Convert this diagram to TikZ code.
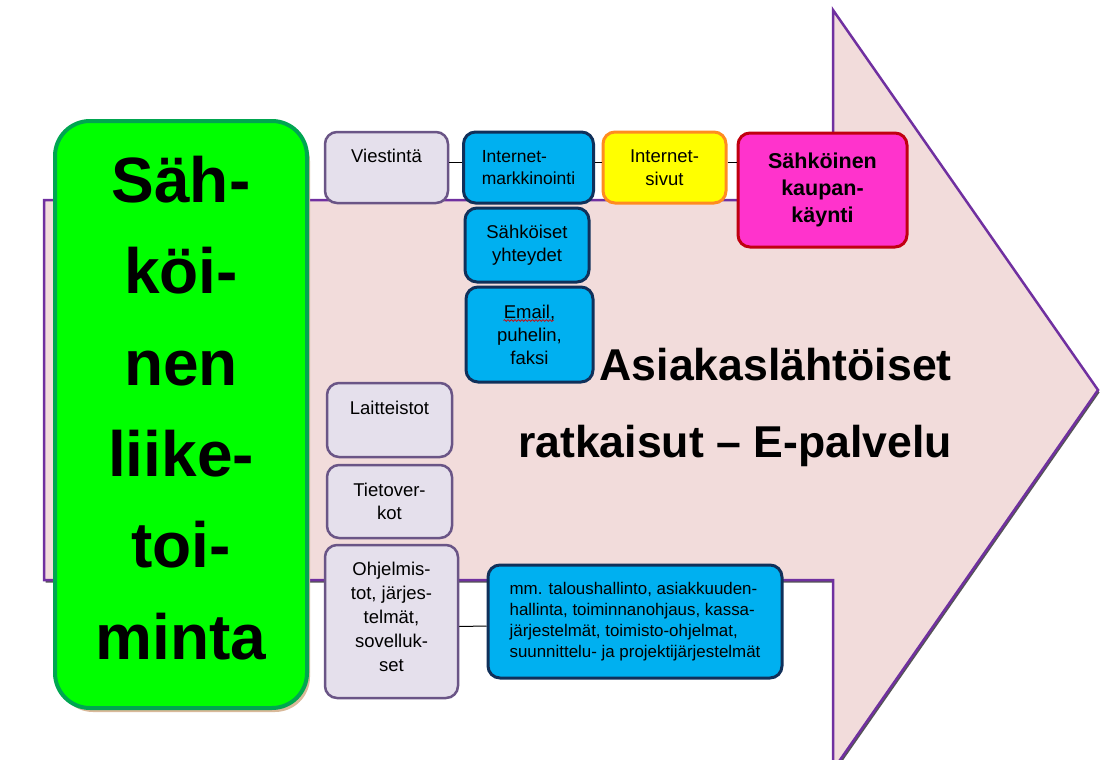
\documentclass[tikz,border=0pt]{standalone}
\usepackage{fontspec}
\setmainfont{Liberation Sans}
\usetikzlibrary{decorations.pathmorphing,calc}
\definecolor{arrowfill}{HTML}{F2DCDB}
\definecolor{arrowline}{HTML}{7030A0}
\definecolor{arrowshadow}{HTML}{555555}
\definecolor{lavfill}{HTML}{E5E0EC}
\definecolor{lavline}{HTML}{6A5586}
\definecolor{bluefill}{HTML}{00B0F0}
\definecolor{blueline}{HTML}{10305A}
\definecolor{yelfill}{HTML}{FFFF00}
\definecolor{yelline}{HTML}{FF8C20}
\definecolor{magfill}{HTML}{FF33CC}
\definecolor{magline}{HTML}{C00010}
\definecolor{grnfill}{HTML}{00FF00}
\definecolor{grnline}{HTML}{00A650}
\definecolor{tanshadow}{HTML}{D9B99A}
\begin{document}
\begin{tikzpicture}[x=1pt,y=-1pt,
  box/.style={draw, rounded corners=12pt, line width=2.5pt, inner sep=0pt, align=center, text=black},
  lbox/.style={box, fill=lavfill, draw=lavline},
  bbox/.style={box, fill=bluefill, draw=blueline, line width=3pt},
  ybox/.style={box, fill=yelfill, draw=yelline, line width=3pt},
  mbox/.style={box, fill=magfill, draw=magline, line width=3pt},
  smtext/.style={font=\fontsize{18.5}{23}\selectfont},
  midtext/.style={font=\fontsize{17.5}{21.5}\selectfont},
  bigtext/.style={font=\fontsize{44.6}{50}\selectfont\bfseries, inner sep=0pt, anchor=base east},
  plain/.style={inner sep=0pt, align=center},
  conn/.style={draw=black, line width=1pt}]
\useasboundingbox (0,0) rectangle (1104,760);
\clip (0,0) rectangle (1104,760);
% big arrow
\fill[arrowshadow, shift={(1.5,2.5)}] (44,200) -- (833,200) -- (833,10) -- (1098,390) -- (833,770) -- (833,580) -- (44,580) -- cycle;
\draw[fill=arrowfill, draw=arrowline, line width=2.5pt, line join=miter]
  (44,200) -- (833,200) -- (833,10) -- (1098,390) -- (833,770) -- (833,580) -- (44,580) -- cycle;
% green box
\fill[tanshadow, rounded corners=35pt] (58,126) rectangle (310,712);
\node[draw=grnline, fill=grnfill, line width=4pt, rounded corners=35pt,
  minimum width=252, minimum height=587, inner sep=0pt] (green) at (181,414.5) {};
\node[plain, font=\fontsize{64}{91.4}\selectfont\bfseries] (greent) at (181,408)
  {Säh-\\köi-\\nen\\liike-\\toi-\\minta};
% big text
\node[bigtext] (asi1) at (952,380) {Asiakaslähtöiset};
\node[bigtext] (asi2) at (952,457) {ratkaisut – E-palvelu};
% top row
\node[lbox, minimum width=123, minimum height=71] (vies) at (386.5,167.5) {};
\node[plain, smtext, anchor=base] (viest) at (386.5,162) {Viestintä};
\node[bbox, midtext, align=left, minimum width=130, minimum height=71] (imk) at (528.5,167.5)
  {Internet-\\markkinointi};
\node[ybox, smtext, minimum width=123, minimum height=71] (isiv) at (664.5,167.5)
  {Internet-\\sivut};
\node[mbox, font=\fontsize{21.5}{27}\selectfont\bfseries, minimum width=169, minimum height=114] (skk) at (822.5,190)
  {Sähköinen\\kaupan-\\käynti};
% blue column
\node[bbox, smtext, minimum width=124, minimum height=74] (syht) at (527,245)
  {Sähköiset\\yhteydet};
\node[bbox, smtext, minimum width=127, minimum height=95] (email) at (529.5,334.5)
  {Email,\\puhelin,\\faksi};
\draw[red!85!black, line width=0.7pt, decorate, decoration={snake, amplitude=0.9pt, segment length=3.5pt}]
  ($(email.center)+(-26,-14)$) -- ($(email.center)+(24,-14)$);
% left column
\node[lbox, minimum width=125, minimum height=74] (lait) at (389.5,420) {};
\node[plain, smtext, anchor=base] (laitt) at (389.5,414) {Laitteistot};
\node[lbox, smtext, minimum width=125, minimum height=73] (tiet) at (389.5,501.5)
  {Tietover-\\kot};
\node[lbox, minimum width=133, minimum height=153] (ohj) at (391.5,621.5) {};
\node[plain, font=\fontsize{18.5}{24}\selectfont] (ohjt) at (391.5,617)
  {Ohjelmis-\\tot, järjes-\\telmät,\\sovelluk-\\set};
\node[bbox, align=left, font=\fontsize{16.9}{21.1}\selectfont, minimum width=294, minimum height=113] (mm) at (635,621.5)
  {mm. taloushallinto, asiakkuuden-\\hallinta, toiminnanohjaus, kassa-\\järjestelmät, toimisto-ohjelmat,\\suunnittelu- ja projektijärjestelmät};
% connectors
\draw[conn] ([yshift=5.5pt]vies.east) -- ([yshift=5.5pt]imk.west);
\draw[conn] ([yshift=5.5pt]imk.east) -- ([yshift=5.5pt]isiv.west);
\draw[conn] ([yshift=5.5pt]isiv.east) -- ([yshift=28pt]skk.west);
\draw[conn] ([yshift=-5pt]ohj.east) -- ([yshift=-4.5pt]mm.west);
\end{tikzpicture}
\end{document}
